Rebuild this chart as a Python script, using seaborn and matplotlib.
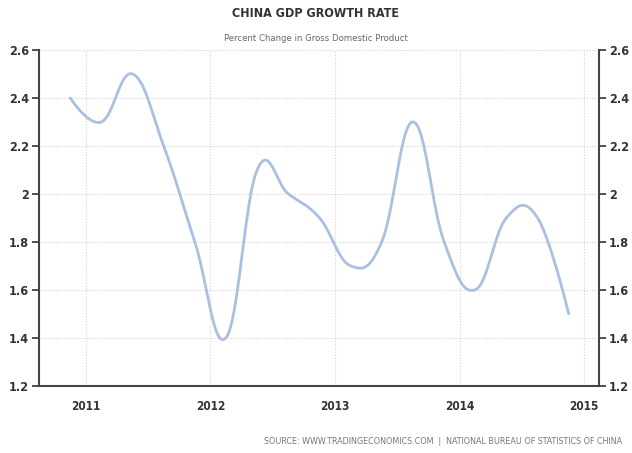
import numpy as np
import pandas as pd
import seaborn as sns
import matplotlib
matplotlib.use("Agg")
import matplotlib.pyplot as plt

# quarterly readings, plotted at mid-quarter
quarter_pos = [2010.875, 2011.125, 2011.375, 2011.625, 2011.875,
               2012.125, 2012.375, 2012.625, 2012.875,
               2013.125, 2013.375, 2013.625, 2013.875,
               2014.125, 2014.375, 2014.625, 2014.875]
growth = [2.4, 2.3, 2.5, 2.2, 1.8,
          1.4, 2.1, 2.0, 1.9,
          1.7, 1.8, 2.3, 1.8,
          1.6, 1.9, 1.9, 1.5]
year_ticks = [2011, 2012, 2013, 2014, 2015]
y_ticks = [1.2, 1.4, 1.6, 1.8, 2.0, 2.2, 2.4, 2.6]
y_labels = ["1.2", "1.4", "1.6", "1.8", "2", "2.2", "2.4", "2.6"]


def spline_curve(xs, ys, n=40):
    # bezier spline through the points, tangent parallel to neighbours
    xs = np.asarray(xs, float)
    ys = np.asarray(ys, float)
    m = len(xs)
    lc = np.column_stack([xs, ys]).astype(float)
    rc = lc.copy()
    for i in range(1, m - 1):
        lcx = (1.5 * xs[i] + xs[i - 1]) / 2.5
        lcy = (1.5 * ys[i] + ys[i - 1]) / 2.5
        rcx = (1.5 * xs[i] + xs[i + 1]) / 2.5
        rcy = (1.5 * ys[i] + ys[i + 1]) / 2.5
        corr = (rcy - lcy) * (rcx - xs[i]) / (rcx - lcx) + ys[i] - rcy
        lc[i] = (lcx, lcy + corr)
        rc[i] = (rcx, rcy + corr)
    t = np.linspace(0, 1, n)[:, None]
    out = []
    for i in range(m - 1):
        p0 = np.array([xs[i], ys[i]])
        p3 = np.array([xs[i + 1], ys[i + 1]])
        p1, p2 = rc[i], lc[i + 1]
        seg = ((1 - t) ** 3) * p0 + 3 * ((1 - t) ** 2) * t * p1 + 3 * (1 - t) * t ** 2 * p2 + t ** 3 * p3
        out.append(seg if i == 0 else seg[1:])
    out = np.vstack(out)
    return pd.DataFrame({"year": out[:, 0], "growth": out[:, 1]})


sns.set_style("white")
plt.rcParams["font.family"] = ["DejaVu Sans", "Liberation Sans"]
plt.rcParams["font.stretch"] = "condensed"

fig = plt.figure(figsize=(6.32, 4.53), dpi=100)
ax = fig.add_axes([0.0617, 0.1486, 0.8861, 0.741])

curve = spline_curve(quarter_pos, growth)
sns.lineplot(data=curve, x="year", y="growth", ax=ax, color="#a9c0e0",
             linewidth=2.0, sort=False, estimator=None)

ax.set_xlim(2010.625, 2015.118)
ax.set_ylim(1.2, 2.6)
ax.set_xticks(year_ticks)
ax.set_xticklabels([str(y) for y in year_ticks])
ax.set_yticks(y_ticks)
ax.set_yticklabels(y_labels)
ax.set_xlabel("")
ax.set_ylabel("")
ax.grid(True, color="#d2d2d2", linestyle=(0, (1, 1.5)), linewidth=0.8)

ax2 = ax.twinx()
ax2.set_ylim(1.2, 2.6)
ax2.set_yticks(y_ticks)
ax2.set_yticklabels(y_labels)

for a in (ax, ax2):
    for s in a.spines.values():
        s.set_visible(False)
    a.tick_params(colors="#333333", labelsize=9, length=5, width=1.2)
ax.spines["left"].set_visible(True)
ax.spines["bottom"].set_visible(True)
ax2.spines["right"].set_visible(True)
for s in (ax.spines["left"], ax.spines["bottom"], ax2.spines["right"]):
    s.set_color("#444444")
    s.set_linewidth(1.5)
ax.tick_params(axis="x", length=4, pad=6, labelsize=8.5)
ax.tick_params(axis="y", left=True, pad=2)
ax2.tick_params(axis="y", right=True, pad=2)
for lab in ax.get_xticklabels() + ax.get_yticklabels() + ax2.get_yticklabels():
    lab.set_fontweight("bold")

fig.text(0.5, 0.970, "CHINA GDP GROWTH RATE", ha="center", va="center",
         fontsize=9, fontweight="bold", color="#333333")
fig.text(0.5, 0.916, "Percent Change in Gross Domestic Product", ha="center",
         va="center", fontsize=6.8, color="#666666")
fig.text(0.984, 0.026, "SOURCE: WWW.TRADINGECONOMICS.COM  |  NATIONAL BUREAU OF STATISTICS OF CHINA",
         ha="right", va="center", fontsize=6.4, color="#777777")

fig.savefig("out.png", dpi=100)
